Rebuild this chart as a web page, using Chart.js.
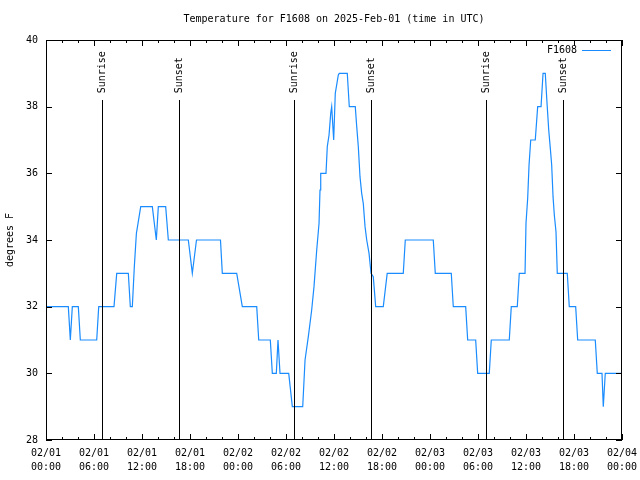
<!DOCTYPE html>
<html>
<head>
<meta charset="utf-8">
<script src="https://cdn.jsdelivr.net/npm/chart.js@4"></script>
<style>
  html, body { margin: 0; padding: 0; background: #fff; }
</style>
</head>
<body>
<canvas id="tempChart" width="640" height="480"></canvas>
<script>
// hours since 02/01 00:00 UTC
const timeHours = [
  0, 2.79, 3.04, 3.29, 4.04, 4.29, 6.34, 6.59, 8.5, 8.84,
  10.29, 10.54, 10.79, 11.04, 11.3, 11.84, 13.29, 13.79, 14.04, 14.96,
  15.29, 17.79, 18.29, 18.81, 21.81, 22.04, 23.84, 24.54, 26.34, 26.59,
  28.04, 28.29, 28.79, 29.0, 29.25, 30.34, 30.79, 32.09, 32.38, 32.79,
  33.21, 33.5, 33.84, 34.13, 34.25, 34.34, 35.0, 35.16, 35.38, 35.59,
  35.71, 35.96, 36.16, 36.54, 36.66, 37.66, 37.91, 38.66, 38.84, 39.04,
  39.25, 39.46, 39.66, 39.88, 40.09, 40.38, 40.63, 40.91, 41.21, 42.16,
  42.65, 44.66, 44.91, 48.41, 48.66, 50.66, 50.91, 52.46, 52.71, 53.71,
  53.96, 55.41, 55.66, 57.91, 58.16, 58.91, 59.16, 59.88, 60.0, 60.21,
  60.38, 60.59, 61.16, 61.46, 61.88, 62.13, 62.41, 62.59, 62.84, 63.04,
  63.21, 63.38, 63.54, 63.75, 63.91, 65.16, 65.41, 66.21, 66.46, 68.66,
  68.91, 69.5, 69.66, 69.91, 72
];
const tempF = [
  32, 32, 31, 32, 32, 31, 31, 32, 32, 33,
  33, 32, 32, 33.2, 34.2, 35, 35, 34, 35, 35,
  34, 34, 33, 34, 34, 33, 33, 32, 32, 31,
  31, 30, 30, 31, 30, 30, 29, 29, 30.4, 31.1,
  31.9, 32.6, 33.7, 34.5, 35.5, 36, 36, 36.8, 37.15, 37.8,
  38, 37, 38.4, 38.95, 39, 39, 38, 38, 37.4, 36.8,
  35.9, 35.4, 35.1, 34.4, 34, 33.6, 33, 32.9, 32, 32,
  33, 33, 34, 34, 33, 33, 32, 32, 31, 31,
  30, 30, 31, 31, 32, 32, 33, 33, 34.5, 35.25,
  36.25, 37, 37, 38, 38, 39, 39, 38.25, 37.3, 36.75,
  36.25, 35.3, 34.75, 34.25, 33, 33, 32, 32, 31, 31,
  30, 30, 29, 30, 30
];

const sunHours = [7.0, 16.63, 31.0, 40.63, 55.0, 64.63];
const sunLabels = ["Sunrise", "Sunset", "Sunrise", "Sunset", "Sunrise", "Sunset"];

const xTickLabels = [
  ["02/01", "00:00"], ["02/01", "06:00"], ["02/01", "12:00"], ["02/01", "18:00"],
  ["02/02", "00:00"], ["02/02", "06:00"], ["02/02", "12:00"], ["02/02", "18:00"],
  ["02/03", "00:00"], ["02/03", "06:00"], ["02/03", "12:00"], ["02/03", "18:00"],
  ["02/04", "00:00"]
];
const yTickValues = [28, 30, 32, 34, 36, 38, 40];

const chartTitle = "Temperature for F1608 on 2025-Feb-01 (time in UTC)";
const FONT = "'DejaVu Sans Mono', monospace";

// title, frame, inward ticks, sunrise/sunset markers and legend (gnuplot look)
const framePlugin = {
    id: "frame",
    afterDatasetsDraw(chart) {
        const { ctx, chartArea: a, scales: { x, y } } = chart;
        ctx.save();
        ctx.strokeStyle = "#000";
        ctx.fillStyle = "#000";
        ctx.lineWidth = 1;
        ctx.font = "10px " + FONT;

        // title, centred over the plot
        ctx.textAlign = "center";
        ctx.textBaseline = "middle";
        ctx.fillText(chartTitle, (a.left + a.right) / 2, 19);

        // sunrise / sunset lines
        sunHours.forEach((h, i) => {
            const px = Math.round(x.getPixelForValue(h)) + 0.5;
            ctx.beginPath();
            ctx.moveTo(px, y.getPixelForValue(38.2));
            ctx.lineTo(px, a.bottom);
            ctx.stroke();
            ctx.save();
            ctx.translate(px, y.getPixelForValue(38.4));
            ctx.rotate(-Math.PI / 2);
            ctx.textAlign = "left";
            ctx.textBaseline = "middle";
            ctx.fillText(sunLabels[i], 0, 0);
            ctx.restore();
        });

        // box
        ctx.strokeRect(a.left + 0.5, a.top + 0.5, a.right - a.left - 1, a.bottom - a.top - 1);

        // x ticks (major every 6h, minor every 2h), top and bottom
        ctx.beginPath();
        for (let h = 0; h <= 72; h += 2) {
            const px = Math.round(x.getPixelForValue(h)) + 0.5;
            const len = h % 6 === 0 ? 6 : 3;
            ctx.moveTo(px, a.bottom);
            ctx.lineTo(px, a.bottom - len);
            ctx.moveTo(px, a.top);
            ctx.lineTo(px, a.top + len);
        }
        // y ticks left and right
        yTickValues.forEach(v => {
            const py = Math.round(y.getPixelForValue(v)) + 0.5;
            ctx.moveTo(a.left, py);
            ctx.lineTo(a.left + 6, py);
            ctx.moveTo(a.right, py);
            ctx.lineTo(a.right - 6, py);
        });
        ctx.stroke();

        // legend
        const ds = chart.data.datasets[0];
        ctx.textAlign = "right";
        ctx.textBaseline = "middle";
        ctx.fillText(ds.label, a.right - 45, a.top + 10);
        ctx.strokeStyle = ds.borderColor;
        ctx.lineWidth = 1;
        ctx.beginPath();
        ctx.moveTo(a.right - 40, a.top + 10.5);
        ctx.lineTo(a.right - 11, a.top + 10.5);
        ctx.stroke();
        ctx.restore();
    }
};

const points = timeHours.map((h, i) => ({ x: h, y: tempF[i] }));

new Chart(document.getElementById("tempChart"), {
    type: "line",
    data: {
        datasets: [{
            label: "F1608",
            data: points,
            borderColor: "#1a8cff",
            borderWidth: 1.2,
            pointRadius: 0,
            tension: 0,
            fill: false
        }]
    },
    options: {
        responsive: false,
        animation: false,
        layout: { padding: { left: 0, right: 18, top: 40, bottom: 0 } },
        plugins: {
            legend: { display: false },
            tooltip: { enabled: false },
            title: { display: false }
        },
        scales: {
            x: {
                type: "linear",
                min: 0,
                max: 72,
                afterFit(scale) {
                    scale.height = 40;
                    scale.paddingLeft = 0;
                    scale.paddingRight = 0;
                },
                afterBuildTicks(scale) {
                    scale.ticks = xTickLabels.map((_, i) => ({ value: i * 6 }));
                },
                grid: { display: false, drawTicks: false },
                border: { display: false },
                ticks: {
                    autoSkip: false,
                    maxRotation: 0,
                    padding: 6,
                    color: "#000",
                    font: { family: FONT, size: 10, lineHeight: 1.4 },
                    callback: (value, index) => xTickLabels[index]
                }
            },
            y: {
                min: 28,
                max: 40,
                afterFit(scale) {
                    scale.width = 46;
                    scale.paddingTop = 0;
                    scale.paddingBottom = 0;
                },
                afterBuildTicks(scale) {
                    scale.ticks = yTickValues.map(v => ({ value: v }));
                },
                grid: { display: false, drawTicks: false },
                border: { display: false },
                title: {
                    display: true,
                    text: "degrees F",
                    color: "#000",
                    font: { family: FONT, size: 10 },
                    padding: { top: 4, bottom: 0 }
                },
                ticks: {
                    padding: 8,
                    color: "#000",
                    font: { family: FONT, size: 10 },
                    callback: value => String(value)
                }
            }
        }
    },
    plugins: [framePlugin]
});
</script>
</body>
</html>
